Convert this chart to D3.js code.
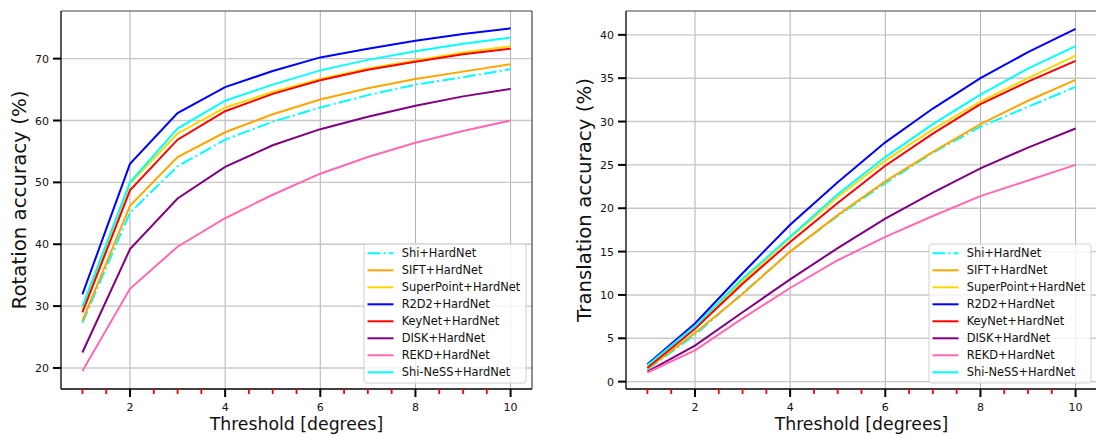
<!DOCTYPE html>
<html>
<head>
<meta charset="utf-8">
<script src="https://cdn.jsdelivr.net/npm/d3@7"></script>
<style>
  body { margin: 0; background: #fff; }
  svg { font-family: "DejaVu Sans", sans-serif; display: block; }
</style>
</head>
<body>
<script>
// thresholds on the x axis
const thresholds = [1, 2, 3, 4, 5, 6, 7, 8, 9, 10];

const methods = ["Shi+HardNet", "SIFT+HardNet", "SuperPoint+HardNet", "R2D2+HardNet",
                 "KeyNet+HardNet", "DISK+HardNet", "REKD+HardNet", "Shi-NeSS+HardNet"];
const colors = ["#00ffff", "#ffa500", "#ffd700", "#0000ff", "#ff0000", "#800080", "#ff69b4", "#00ffff"];
const dashed = [true, false, false, false, false, false, false, false];

// rotation accuracy (%)
const rotShi     = [27.3, 45.1, 52.6, 56.9, 59.8, 62.1, 64.1, 65.8, 67.0, 68.3];
const rotSift    = [27.6, 46.2, 54.1, 58.1, 61.0, 63.4, 65.2, 66.7, 67.9, 69.1];
const rotSP      = [29.5, 49.8, 57.9, 62.1, 64.6, 66.7, 68.4, 69.7, 71.0, 72.0];
const rotR2D2    = [31.9, 53.0, 61.2, 65.4, 68.0, 70.2, 71.6, 72.9, 74.0, 74.9];
const rotKeyNet  = [29.0, 48.7, 56.9, 61.5, 64.3, 66.5, 68.2, 69.5, 70.7, 71.6];
const rotDisk    = [22.5, 39.2, 47.4, 52.5, 56.0, 58.6, 60.6, 62.4, 63.9, 65.1];
const rotRekd    = [19.5, 32.8, 39.6, 44.2, 48.0, 51.4, 54.1, 56.4, 58.3, 60.0];
const rotShiNess = [30.0, 50.0, 58.7, 63.2, 65.8, 68.1, 69.8, 71.2, 72.4, 73.4];

// translation accuracy (%)
const trShi     = [1.4, 5.4, 10.2, 15.0, 19.1, 22.9, 26.4, 29.4, 31.7, 34.0];
const trSift    = [1.5, 5.6, 10.1, 15.0, 19.2, 23.1, 26.5, 29.7, 32.4, 34.8];
const trSP      = [1.8, 6.2, 11.6, 16.6, 21.3, 25.5, 29.1, 32.3, 35.0, 37.6];
const trR2D2    = [2.0, 6.7, 12.5, 18.1, 23.0, 27.6, 31.5, 35.0, 38.0, 40.7];
const trKeyNet  = [1.6, 6.1, 11.3, 16.1, 20.6, 24.9, 28.6, 32.0, 34.6, 37.0];
const trDisk    = [1.15, 4.15, 8.0, 11.8, 15.4, 18.8, 21.8, 24.6, 27.0, 29.2];
const trRekd    = [1.05, 3.6, 7.3, 10.8, 14.0, 16.7, 19.1, 21.4, 23.2, 25.0];
const trShiNess = [1.9, 6.4, 11.9, 16.7, 21.6, 25.9, 29.7, 33.1, 36.1, 38.7];

const rotSeries = [rotShi, rotSift, rotSP, rotR2D2, rotKeyNet, rotDisk, rotRekd, rotShiNess];
const trSeries  = [trShi, trSift, trSP, trR2D2, trKeyNet, trDisk, trRekd, trShiNess];

const rotTicks = [20, 30, 40, 50, 60, 70];
const trTicks  = [0, 5, 10, 15, 20, 25, 30, 35, 40];
const xMajor = [2, 4, 6, 8, 10];
const xMinor = [1, 1.5, 2.5, 3, 3.5, 4.5, 5, 5.5, 6.5, 7, 7.5, 8.5, 9, 9.5];

const svg = d3.select("body").append("svg")
    .attr("width", 1096)
    .attr("height", 438);

function drawPanel(opts) {
    const {left, right, top, bottom, xDomain, yDomain, yTicks, series, yLabel, yLabelX, legendX} = opts;
    const x = d3.scaleLinear().domain(xDomain).range([left, right]);
    const y = d3.scaleLinear().domain(yDomain).range([bottom, top]);
    const g = svg.append("g");

    // grid
    g.selectAll(".vgrid").data(xMajor).join("line")
        .attr("x1", d => x(d)).attr("x2", d => x(d))
        .attr("y1", top).attr("y2", bottom)
        .attr("stroke", "#b0b0b0").attr("stroke-width", 1);
    g.selectAll(".hgrid").data(yTicks).join("line")
        .attr("x1", left).attr("x2", right)
        .attr("y1", d => y(d)).attr("y2", d => y(d))
        .attr("stroke", "#c8c8c8").attr("stroke-width", 1.4);

    // lines
    const line = d3.line().x((d, i) => x(thresholds[i])).y(d => y(d));
    series.forEach((s, k) => {
        g.append("path")
            .attr("d", line(s))
            .attr("fill", "none")
            .attr("stroke", colors[k])
            .attr("stroke-width", 2)
            .attr("stroke-dasharray", dashed[k] ? "12.8,3.2,2,3.2" : null);
    });

    // spines
    g.append("line").attr("x1", left).attr("x2", right).attr("y1", top).attr("y2", top)
        .attr("stroke", "#444").attr("stroke-width", 1.2);
    g.append("line").attr("x1", right).attr("x2", right).attr("y1", top).attr("y2", bottom)
        .attr("stroke", "#444").attr("stroke-width", 1.2);
    g.append("line").attr("x1", left).attr("x2", left).attr("y1", top).attr("y2", bottom)
        .attr("stroke", "#000").attr("stroke-width", 1.3);
    g.append("line").attr("x1", left).attr("x2", right).attr("y1", bottom).attr("y2", bottom)
        .attr("stroke", "#000").attr("stroke-width", 1.3);

    // x axis ticks
    g.selectAll(".xminor").data(xMinor).join("line")
        .attr("x1", d => x(d)).attr("x2", d => x(d))
        .attr("y1", bottom).attr("y2", bottom + 5)
        .attr("stroke", "red").attr("stroke-width", 1.8);
    g.selectAll(".xmajor").data(xMajor).join("line")
        .attr("x1", d => x(d)).attr("x2", d => x(d))
        .attr("y1", bottom).attr("y2", bottom + 8)
        .attr("stroke", "#000").attr("stroke-width", 2);
    g.selectAll(".xlab").data(xMajor).join("text")
        .attr("x", d => x(d)).attr("y", bottom + 21.7)
        .attr("text-anchor", "middle").attr("font-size", 11).attr("fill", "#111")
        .text(d => d);

    // y axis ticks
    g.selectAll(".ytick").data(yTicks).join("line")
        .attr("x1", left - 8).attr("x2", left)
        .attr("y1", d => y(d)).attr("y2", d => y(d))
        .attr("stroke", "#000").attr("stroke-width", 2);
    g.selectAll(".ylab").data(yTicks).join("text")
        .attr("x", left - 12).attr("y", d => y(d) + 4)
        .attr("text-anchor", "end").attr("font-size", 11).attr("fill", "#111")
        .text(d => d);

    // axis labels
    g.append("text")
        .attr("x", x(5.5)).attr("y", 430)
        .attr("text-anchor", "middle").attr("font-size", 17.3).attr("fill", "#111")
        .text("Threshold [degrees]");
    g.append("text")
        .attr("transform", `translate(${yLabelX},${(top + bottom) / 2}) rotate(-90)`)
        .attr("text-anchor", "middle").attr("font-size", 19.8).attr("fill", "#111")
        .text(yLabel);

    // legend
    const lx = legendX, ly = 244, lw = 162, lh = 139, rowH = 17.0;
    const leg = g.append("g");
    leg.append("rect")
        .attr("x", lx).attr("y", ly).attr("width", lw).attr("height", lh)
        .attr("rx", 2.5)
        .attr("fill", "rgba(255,255,255,0.8)")
        .attr("stroke", "#d0d0d0").attr("stroke-width", 1);
    methods.forEach((m, k) => {
        const cy = ly + 9.3 + k * rowH;
        leg.append("line")
            .attr("x1", lx + 3.5).attr("x2", lx + 29.5)
            .attr("y1", cy).attr("y2", cy)
            .attr("stroke", colors[k]).attr("stroke-width", 2)
            .attr("stroke-dasharray", dashed[k] ? "12.8,3.2,2,3.2" : null);
        leg.append("text")
            .attr("x", lx + 37.7).attr("y", cy + 4)
            .attr("font-size", 11.4).attr("fill", "#111")
            .text(m);
    });
}

drawPanel({
    left: 61, right: 532, top: 11, bottom: 389,
    xDomain: [0.55, 10.45], yDomain: [16.6, 77.7], yTicks: rotTicks,
    series: rotSeries, yLabel: "Rotation accuracy (%)", yLabelX: 26, legendX: 364
});

drawPanel({
    left: 626, right: 1097, top: 11, bottom: 389,
    xDomain: [0.55, 10.45], yDomain: [-0.85, 42.75], yTicks: trTicks,
    series: trSeries, yLabel: "Translation accuracy (%)", yLabelX: 591, legendX: 929
});
</script>
</body>
</html>
